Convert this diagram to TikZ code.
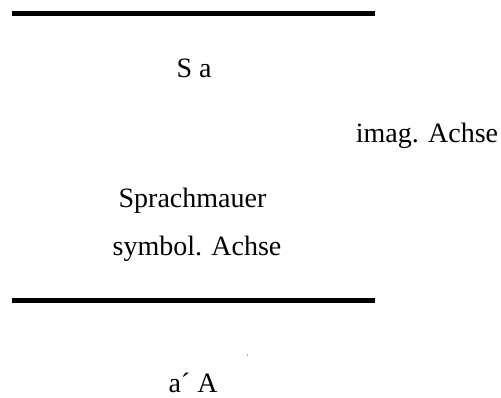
\documentclass[tikz,border=0pt]{standalone}
\usepackage{fontspec}
\setmainfont{Liberation Serif}
\begin{document}
\begin{tikzpicture}[x=1pt,y=1pt,
  lbl/.style={inner sep=0pt,anchor=base,font=\fontsize{28}{34}\selectfont},
  bar/.style={line width=5pt}]
\useasboundingbox (0,0) rectangle (501,398);
% the two walls
\coordinate (t1) at (12,384.5);
\coordinate (t2) at (375,384.5);
\coordinate (b1) at (12,97.5);
\coordinate (b2) at (375,97.5);
\draw[bar] (t1) -- (t2);
\draw[bar] (b1) -- (b2);
% labels
\node[lbl] (sa)   at (194,320) {S a};
\node[lbl] (imag) at (427,255) {imag. Achse};
\node[lbl] (wall) at (192.5,190) {Sprachmauer};
\node[lbl] (sym)  at (197,142) {symbol. Achse};
\node[lbl] (aa)   at (193,5) {a´ A};
% small mark below the lower wall
\draw[gray!60,line width=0.6pt] (247,41.5) -- (247,44);
\end{tikzpicture}
\end{document}
